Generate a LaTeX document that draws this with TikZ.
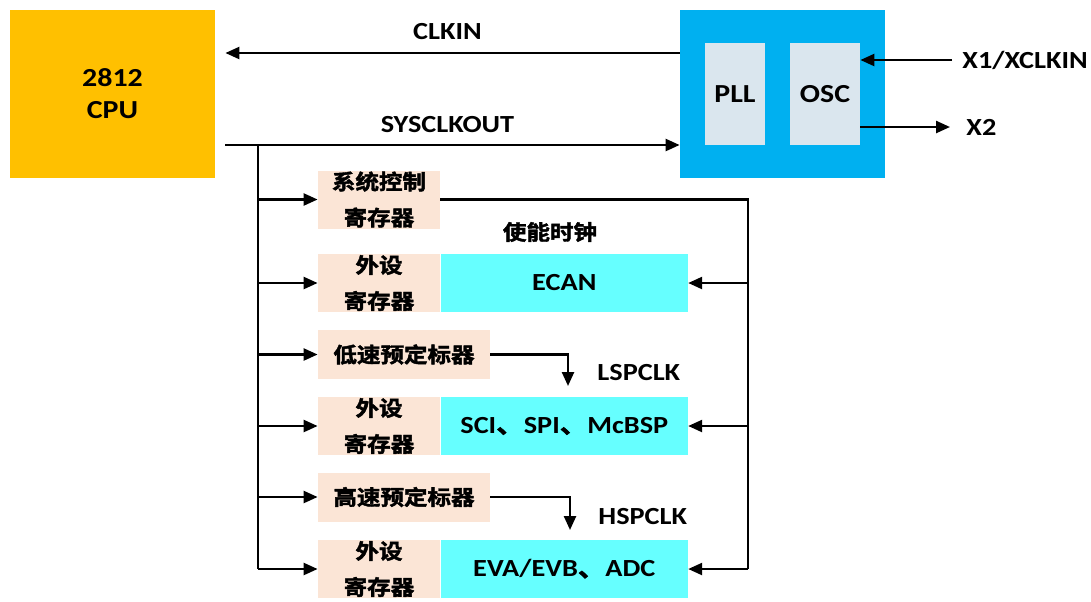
\documentclass[tikz,border=0pt]{standalone}
\usepackage{fontspec}
\setmainfont{Carlito}[FakeStretch=1.15]
\newfontfamily\cjk{Noto Sans CJK SC}[FakeStretch=1.12,BoldFont={Noto Sans CJK SC Bold},
BoldFeatures={FakeBold=2}]
\usetikzlibrary{arrows.meta,positioning}
\definecolor{cpuamber}{HTML}{FFC000}
\definecolor{clkblue}{HTML}{00B0F0}
\definecolor{pllgrey}{HTML}{DAE6EE}
\definecolor{regpeach}{HTML}{FBE5D6}
\definecolor{percyan}{HTML}{66FFFF}

\begin{document}
\begin{tikzpicture}[x=0.5pt,y=-0.5pt,
every node/.style={font=\bfseries\fontsize{12.3}{14}\selectfont,inner sep=0pt},
cjkfont/.style={font=\cjk\bfseries\fontsize{10.5}{18}\selectfont},
cpubox/.style={fill=cpuamber,minimum width=102.5pt,minimum height=84pt,
align=center,font=\bfseries\fontsize{13}{16}\selectfont},
clkbox/.style={fill=clkblue,minimum width=102.5pt,minimum height=84pt},
inbox/.style={fill=pllgrey,minimum height=51pt,font=\bfseries\fontsize{13}{16}\selectfont},
reg/.style={cjkfont,fill=regpeach,minimum width=61pt,minimum height=29pt,align=center},
pre/.style={cjkfont,fill=regpeach,minimum width=86pt,minimum height=24.5pt},
per/.style={fill=percyan,minimum width=123.5pt,minimum height=29pt},
line/.style={line width=1.2pt},
arr/.style={line,-{Triangle[length=7pt,width=6pt]}}
]
\useasboundingbox (0,0) rectangle (1091,601);

% clock source and cpu
\node[cpubox] (cpu) at (112.5,94) {2812\\CPU};
\node[clkbox] (clk) at (782.5,94) {};
\node[inbox,minimum width=30pt] (pll) at (735,94) {PLL};
\node[inbox,minimum width=35pt] (osc) at (825,94) {OSC};

\draw[arr,shorten >=5pt] ([yshift=20.5pt]clk.west) -- ([yshift=20.5pt]cpu.east)
  node[midway,above=6pt] {CLKIN};
\draw[arr,shorten <=5pt] ([yshift=-25.5pt]cpu.east) -- ([yshift=-25.5pt]clk.west)
  node[midway,above=5.5pt] {SYSCLKOUT};

\node[anchor=west] (xin) at (962,60) {X1/XCLKIN};
\node[anchor=west] (xout) at (966,127) {X2};
\draw[arr,shorten <=5pt] (xin.west) -- (xin.west -| osc.east);
\draw[arr,shorten >=8pt] (osc.east |- xout.west) -- (xout.west);

% registers and peripherals
\node[reg] (sysreg) at (379,199.5) {系统控制\\寄存器};
\node[cjkfont] (en) at (550,232) {使能时钟};

\node[reg] (reg1) at (379,283) {外设\\寄存器};
\node[per,right=0pt of reg1] (ecan) {ECAN};
\node[pre] (lsp) at (404,354.5) {低速预定标器};
\node[reg] (reg2) at (379,426) {外设\\寄存器};
\node[per,right=0pt of reg2] (spi) {SCI{\cjk\bfseries 、}SPI{\cjk\bfseries 、}McBSP};
\node[pre] (hsp) at (404,497) {高速预定标器};
\node[reg] (reg3) at (379,569) {外设\\寄存器};
\node[per,right=0pt of reg3] (eva) {EVA/EVB{\cjk\bfseries 、}ADC};

% clock bus
\coordinate (bustop) at (258,145);
\coordinate (busbot) at (258,569);
\draw[line] (bustop) -- (busbot);
\foreach \n in {sysreg,reg1,lsp,reg2,hsp,reg3}
  \draw[arr] (bustop |- \n.west) -- (\n.west);

% enable lines
\coordinate (retbot) at (748,569);
\draw[line] (sysreg.east) -| (retbot);
\foreach \n in {ecan,spi,eva}
  \draw[arr] (retbot |- \n.east) -- (\n.east);

% prescaled clocks
\coordinate (lspend) at (568,386);
\coordinate (hspend) at (570,530);
\draw[arr] (lsp.east) -| (lspend);
\draw[arr] (hsp.east) -| (hspend);
\node[anchor=west] (lspclk) at (597,373) {LSPCLK};
\node[anchor=west] (hspclk) at (598,517) {HSPCLK};
\end{tikzpicture}
\end{document}
